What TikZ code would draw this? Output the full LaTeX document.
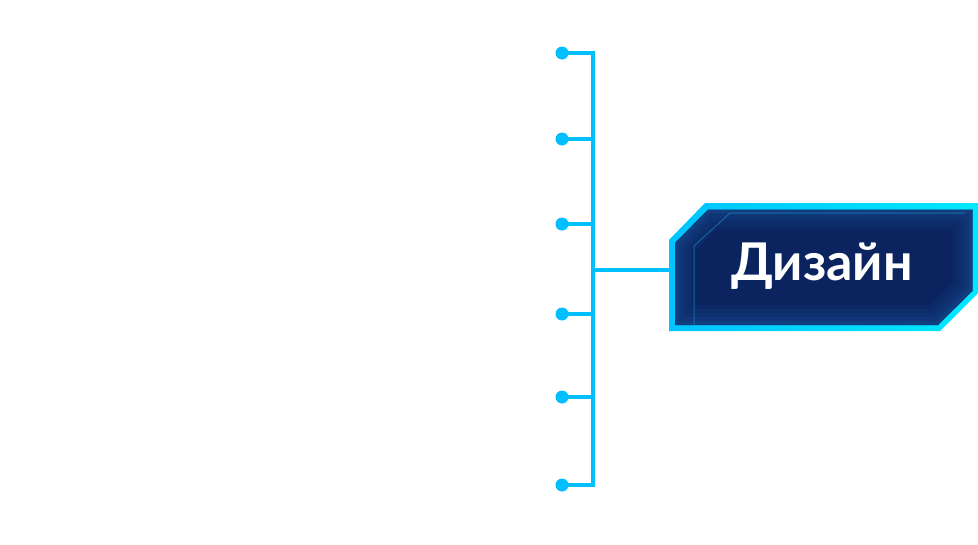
\documentclass[tikz,border=0pt]{standalone}
\usepackage{fontspec}
\setmainfont{Lato}
\begin{document}
\begin{tikzpicture}[x=1pt,y=-1pt,
  wire/.style={draw=wireblue,line width=4pt},
  dotnode/.style={circle,fill=wireblue,inner sep=0pt,minimum size=13pt},
  label/.style={text=white,font=\bfseries\fontsize{52}{60}\selectfont,inner sep=0pt}]
\definecolor{wireblue}{HTML}{00BFFF}
\definecolor{navy}{HTML}{0B2460}
\definecolor{edgeblue}{HTML}{1F5FA8}
\definecolor{cyanA}{HTML}{00C4FF}
\definecolor{cyanB}{HTML}{00E8FF}
\useasboundingbox (0,0) rectangle (978,544);
% dots
\foreach \i/\yy in {1/53,2/139,3/224,4/314,5/397,6/485}{
  \node[dotnode] (d\i) at (562,\yy) {};
  \coordinate (b\i) at (593,\yy);
}
\coordinate (bm) at (593,270);
\draw[wire] (d1.center) -- (b1) -- (b6) -- (d6.center);
\foreach \i in {2,3,4,5}{\draw[wire] (d\i.center) -- (b\i);}
% box
\coordinate (boxw) at (670,270);
\draw[wire] (bm) -- (boxw);
\shade[left color=cyanA,right color=cyanB] (669,240) -- (705,203) -- (978,203) -- (978,293) -- (940,331) -- (669,331) -- cycle;
\begin{scope}
\path[clip] (675,243) -- (708,209.5) -- (972.5,209.5) -- (972.5,291) -- (938,325) -- (675,325) -- cycle;
\fill[navy] (660,200) rectangle (978,335);
\foreach \w/\o in {40/0.07,32/0.08,24/0.10,16/0.13,8/0.18}{
  \draw[edgeblue,line width=\w pt,opacity=\o] (675,243) -- (708,209.5) -- (972.5,209.5) -- (972.5,291) -- (938,325) -- (675,325) -- cycle;
}
\draw[edgeblue!70!cyan,line width=1pt,opacity=0.6] (694,330) -- (694,246) -- (730,213) -- (965,213);
\end{scope}
\node[label] (t) at (822,266) {Дизайн};
\end{tikzpicture}
\end{document}
